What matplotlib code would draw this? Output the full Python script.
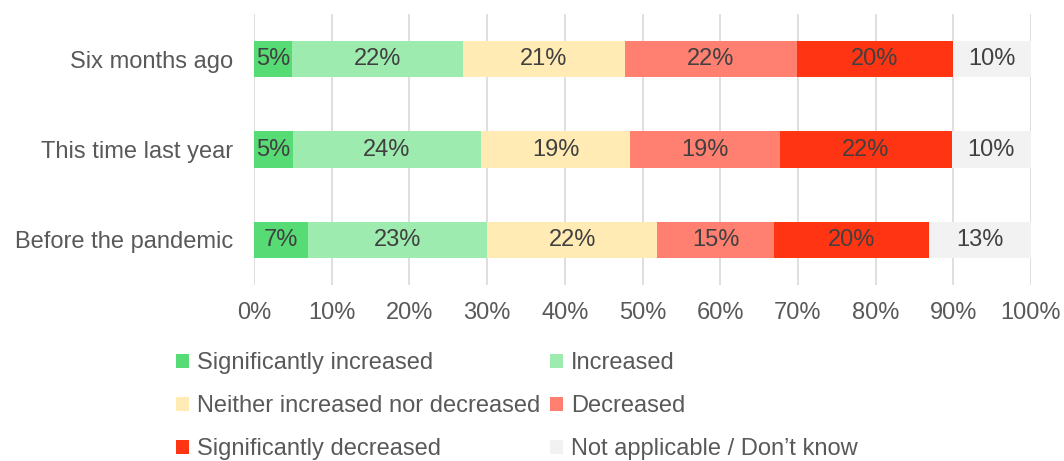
import numpy as np
import matplotlib.pyplot as plt
from matplotlib.patches import Patch

plt.rcParams['font.family'] = ['Liberation Sans', 'DejaVu Sans']

periods = ['Six months ago', 'This time last year', 'Before the pandemic']
categories = ['Significantly increased', 'Increased',
              'Neither increased nor decreased', 'Decreased',
              'Significantly decreased', 'Not applicable / Don\u2019t know']
sig_inc = [4.9, 5.0, 7.0]
increased = [22.0, 24.2, 23.0]
neither = [20.8, 19.2, 21.9]
decreased = [22.2, 19.3, 15.0]
sig_dec = [20.0, 22.1, 20.0]
not_applicable = [10.1, 10.2, 13.1]
labels = [[5, 5, 7], [22, 24, 23], [21, 19, 22], [22, 19, 15], [20, 22, 20], [10, 10, 13]]

colors = ['#57DC75', '#9DEBAE', '#FFEBB3', '#FF8070', '#FF3412', '#F2F2F2']
series = [sig_inc, increased, neither, decreased, sig_dec, not_applicable]

fig = plt.figure(figsize=(10.64, 4.61), dpi=100)
ax = fig.add_axes([254 / 1064, 1 - 285 / 461, 777 / 1064, 271 / 461])

y = np.arange(len(periods))
left = np.zeros(len(periods))
handles = []
for vals, lab, col, name in zip(series, labels, colors, categories):
    vals = np.array(vals)
    bars = ax.barh(y, vals, left=left, height=0.4, color=col, zorder=2)
    ax.bar_label(bars, labels=[f'{v}%' for v in lab], label_type='center',
                 color='#404040', fontsize=17)
    left += vals
    handles.append(Patch(facecolor=col, label=name))

ax.set_xlim(0, 100)
ax.set_ylim(2.5, -0.5)
ax.set_xticks(np.arange(0, 101, 10))
ax.set_xticklabels([f'{t}%' for t in range(0, 101, 10)])
ax.set_yticks(y)
ax.set_yticklabels(periods)
ax.tick_params(length=0, labelsize=17, labelcolor='#595959')
ax.tick_params(axis='x', pad=12)
ax.tick_params(axis='y', pad=15)
ax.grid(axis='x', color='#D9D9D9', linewidth=1.2, zorder=0)
for s in ax.spines.values():
    s.set_visible(False)

order = [0, 2, 4, 1, 3, 5]
leg = fig.legend([handles[i] for i in order], [categories[i] for i in order],
                 loc='upper left', bbox_to_anchor=(176 / 1064, 1 - 352 / 461),
                 ncol=2, frameon=False, fontsize=17, labelcolor='#595959',
                 handlelength=0.55, handleheight=0.55, handletextpad=0.35,
                 columnspacing=0.4, labelspacing=0.9, borderpad=0, borderaxespad=0)

fig.savefig('out.png', dpi=100)
